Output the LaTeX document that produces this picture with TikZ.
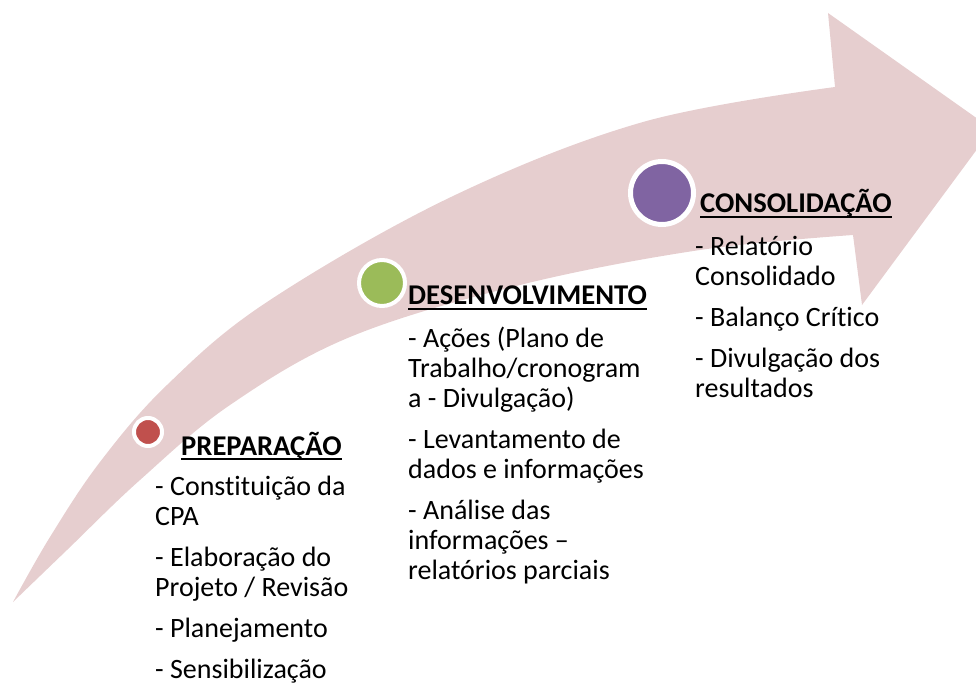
\documentclass[tikz,border=0pt]{standalone}
\usepackage{fontspec}
\setmainfont{Carlito}[Ligatures=NoCommon]
\usetikzlibrary{positioning}
\definecolor{arrowpink}{RGB}{230,206,207}
\definecolor{dotred}{RGB}{192,80,77}
\definecolor{dotgreen}{RGB}{155,187,89}
\definecolor{dotpurple}{RGB}{128,100,162}

\begin{document}
\begin{tikzpicture}[x=1pt,y=-1pt,
  every node/.style={font=\fontsize{28}{30}\selectfont,inner sep=0pt},
  stagedot/.style={circle,draw=white,line width=4pt,minimum size=#1},
  stagehead/.style={anchor=base west,font=\fontsize{28.6}{30}\selectfont\bfseries},
  stagelist/.style={anchor=north west,align=left}]
  \useasboundingbox (0,0) rectangle (976,684);
  \clip (0,0) rectangle (976,684);
  % curved arrow
  \fill[arrowpink] plot[smooth,tension=0.6] coordinates {(13,602) (50,537) (100,462) (167,385) (267,302) (451,197) (643,122) (835,87)}
    -- (828,13) -- (992,129) -- (862,305) -- (853,235)
    -- plot[smooth,tension=0.6] coordinates {(853,235) (700,250) (520,285) (350,337) (230,405) (140,480) (67,550) (13,602)} -- cycle;
  % stages
  \node[stagedot=28pt,fill=dotred] (prep) at (148,432) {};
  \node[stagedot=46pt,fill=dotgreen] (desenv) at (382,283) {};
  \node[stagedot=63pt,fill=dotpurple,line width=5pt] (consol) at (662,193) {};
  \node[stagehead] (prepT) at (181,455) {PREPARAÇÃO};
  \node[stagehead] (desenvT) at (408,305) {DESENVOLVIMENTO};
  \node[stagehead] (consolT) at (700,213) {CONSOLIDAÇÃO};
  \foreach \h in {prepT,desenvT,consolT}
    \draw[line width=1.4pt] ([yshift=-4pt]\h.base west) -- ([yshift=-4pt]\h.base east);
  \node[stagelist] (prepL) at (155,470) {\rule{0pt}{25pt}- Constituição da\\CPA\\[11pt]- Elaboração do\\Projeto / Revisão\\[11pt]- Planejamento\\[11pt]- Sensibilização};
  \node[stagelist] (desenvL) at (408,322) {\rule{0pt}{25pt}- Ações (Plano de\\Trabalho/cronogram\\a - Divulgação)\\[11pt]- Levantamento de\\dados e informações\\[11pt]- Análise das\\informações –\\relatórios parciais};
  \node[stagelist] (consolL) at (695,230) {\rule{0pt}{25pt}- Relatório\\Consolidado\\[11pt]- Balanço Crítico\\[11pt]- Divulgação dos\\resultados};
\end{tikzpicture}
\end{document}
